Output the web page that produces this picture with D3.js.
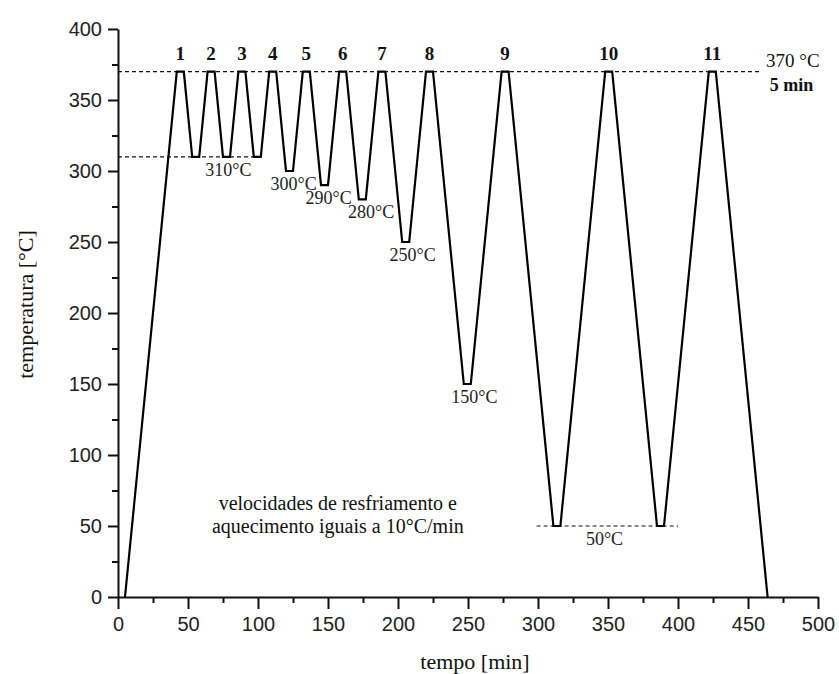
<!DOCTYPE html>
<html>
<head>
<meta charset="utf-8">
<script src="https://cdn.jsdelivr.net/npm/d3@7"></script>
<style>
  html, body { margin: 0; padding: 0; background: #fff; }
  svg { display: block; }
</style>
</head>
<body>
<svg id="chart" width="839" height="674"></svg>
<script>
// ---- data ----
const times = [5,42,47,53,58,64,69,75,80,86,91,97,102,108,113,120,125,132,137,145,150,158,163,172,177,186,191,203,208,220,225,247,252,274,279,311,316,348,353,385,390,422,427,464];
const temps = [0,370,370,310,310,370,370,310,310,370,370,310,310,370,370,300,300,370,370,290,290,370,370,280,280,370,370,250,250,370,370,150,150,370,370,50,50,370,370,50,50,370,370,0];

const peakLabels = ["1","2","3","4","5","6","7","8","9","10","11"];
const peakTimes = [44.5,66.5,88.5,110.5,134.5,160.5,188.5,222.5,276.5,350.5,424.5];

const refTemps = [370,310,50];
const refStart = [0,0,299];
const refEnd = [460,102,400];

const troughLabelText = ["310°C","300°C","290°C","280°C","250°C","150°C","50°C"];
const troughLabelTime = [78.8,125.4,150.4,180.8,210.5,254.5,347.5];
const troughLabelTemp = [310,300,290,280,250,150,50];

const xTicks = [0,50,100,150,200,250,300,350,400,450,500];
const xMinor = [25,75,125,175,225,275,325,375,425,475];
const yTicks = [0,50,100,150,200,250,300,350,400];
const yMinor = [25,75,125,175,225,275,325,375];

const noteLines = ["velocidades de resfriamento e","aquecimento iguais a 10°C/min"];
const holdLabel = ["370 °C","5 min"];

// ---- chart ----
const svg = d3.select("#chart");
const x = d3.scaleLinear().domain([0,500]).range([118,818]);
const y = d3.scaleLinear().domain([0,400]).range([597,29]);

const serif = "'Liberation Serif','Times New Roman',serif";
const sans = "'Liberation Sans',Arial,sans-serif";

// minor ticks
svg.append("g").attr("transform",`translate(0,${y(0)})`)
  .call(d3.axisBottom(x).tickValues(xMinor).tickSize(6).tickFormat(""))
  .call(g => g.select(".domain").remove());
svg.append("g").attr("transform",`translate(${x(0)},0)`)
  .call(d3.axisLeft(y).tickValues(yMinor).tickSize(6).tickFormat(""))
  .call(g => g.select(".domain").remove());

// major axes
svg.append("g").attr("transform",`translate(0,${y(0)})`)
  .call(d3.axisBottom(x).tickValues(xTicks).tickSize(12).tickSizeOuter(0).tickPadding(8).tickFormat(d3.format("d")));
svg.append("g").attr("transform",`translate(${x(0)},0)`)
  .call(d3.axisLeft(y).tickValues(yTicks).tickSize(10).tickSizeOuter(0).tickPadding(6).tickFormat(d3.format("d")));

svg.selectAll(".tick line").attr("stroke","#111").attr("stroke-width",2);
svg.selectAll(".domain").attr("stroke","#111").attr("stroke-width",2);
svg.selectAll(".tick text").attr("font-family",sans).attr("font-size",20).attr("fill","#222");

// reference dashed lines
svg.append("g").selectAll("line").data(refTemps).join("line")
  .attr("x1",(d,i)=>x(refStart[i])).attr("x2",(d,i)=>x(refEnd[i]))
  .attr("y1",d=>y(d)).attr("y2",d=>y(d))
  .attr("stroke","#111").attr("stroke-width",1.2).attr("stroke-dasharray","4,3");

// profile line
const pts = times.map((t,i)=>[t,temps[i]]);
svg.append("path").datum(pts)
  .attr("fill","none").attr("stroke","#000").attr("stroke-width",2.2)
  .attr("stroke-linejoin","miter")
  .attr("d", d3.line().x(d=>x(d[0])).y(d=>y(d[1])));

// peak numbers
svg.append("g").selectAll("text").data(peakLabels).join("text")
  .attr("x",(d,i)=>x(peakTimes[i])).attr("y",y(370)-12)
  .attr("text-anchor","middle").attr("font-family",serif).attr("font-weight","bold")
  .attr("font-size",19).attr("fill","#111").text(d=>d);

// trough labels
svg.append("g").selectAll("text").data(troughLabelText).join("text")
  .attr("x",(d,i)=>x(troughLabelTime[i])).attr("y",(d,i)=>y(troughLabelTemp[i])+19)
  .attr("text-anchor","middle").attr("font-family",serif)
  .attr("font-size",18).attr("fill","#222").text(d=>d);

// hold label
svg.append("text").attr("x",x(482)).attr("y",y(370)-5)
  .attr("text-anchor","middle").attr("font-family",serif).attr("font-size",19).attr("fill","#111")
  .text(holdLabel[0]);
svg.append("text").attr("x",x(481)).attr("y",y(370)+19)
  .attr("text-anchor","middle").attr("font-family",serif).attr("font-weight","bold").attr("font-size",18).attr("fill","#111")
  .text(holdLabel[1]);

// note
svg.append("g").selectAll("text").data(noteLines).join("text")
  .attr("x",x(157)).attr("y",(d,i)=>y(45)-23+ i*23)
  .attr("text-anchor","middle").attr("font-family",serif).attr("font-size",20).attr("fill","#111")
  .text(d=>d);

// axis titles
svg.append("text").attr("x",x(255)).attr("y",669)
  .attr("text-anchor","middle").attr("font-family",serif).attr("font-size",22).attr("fill","#111")
  .text("tempo [min]");
svg.append("text").attr("transform",`translate(33,${y(206)}) rotate(-90)`)
  .attr("text-anchor","middle").attr("font-family",serif).attr("font-size",22).attr("fill","#111")
  .text("temperatura [°C]");
</script>
</body>
</html>
